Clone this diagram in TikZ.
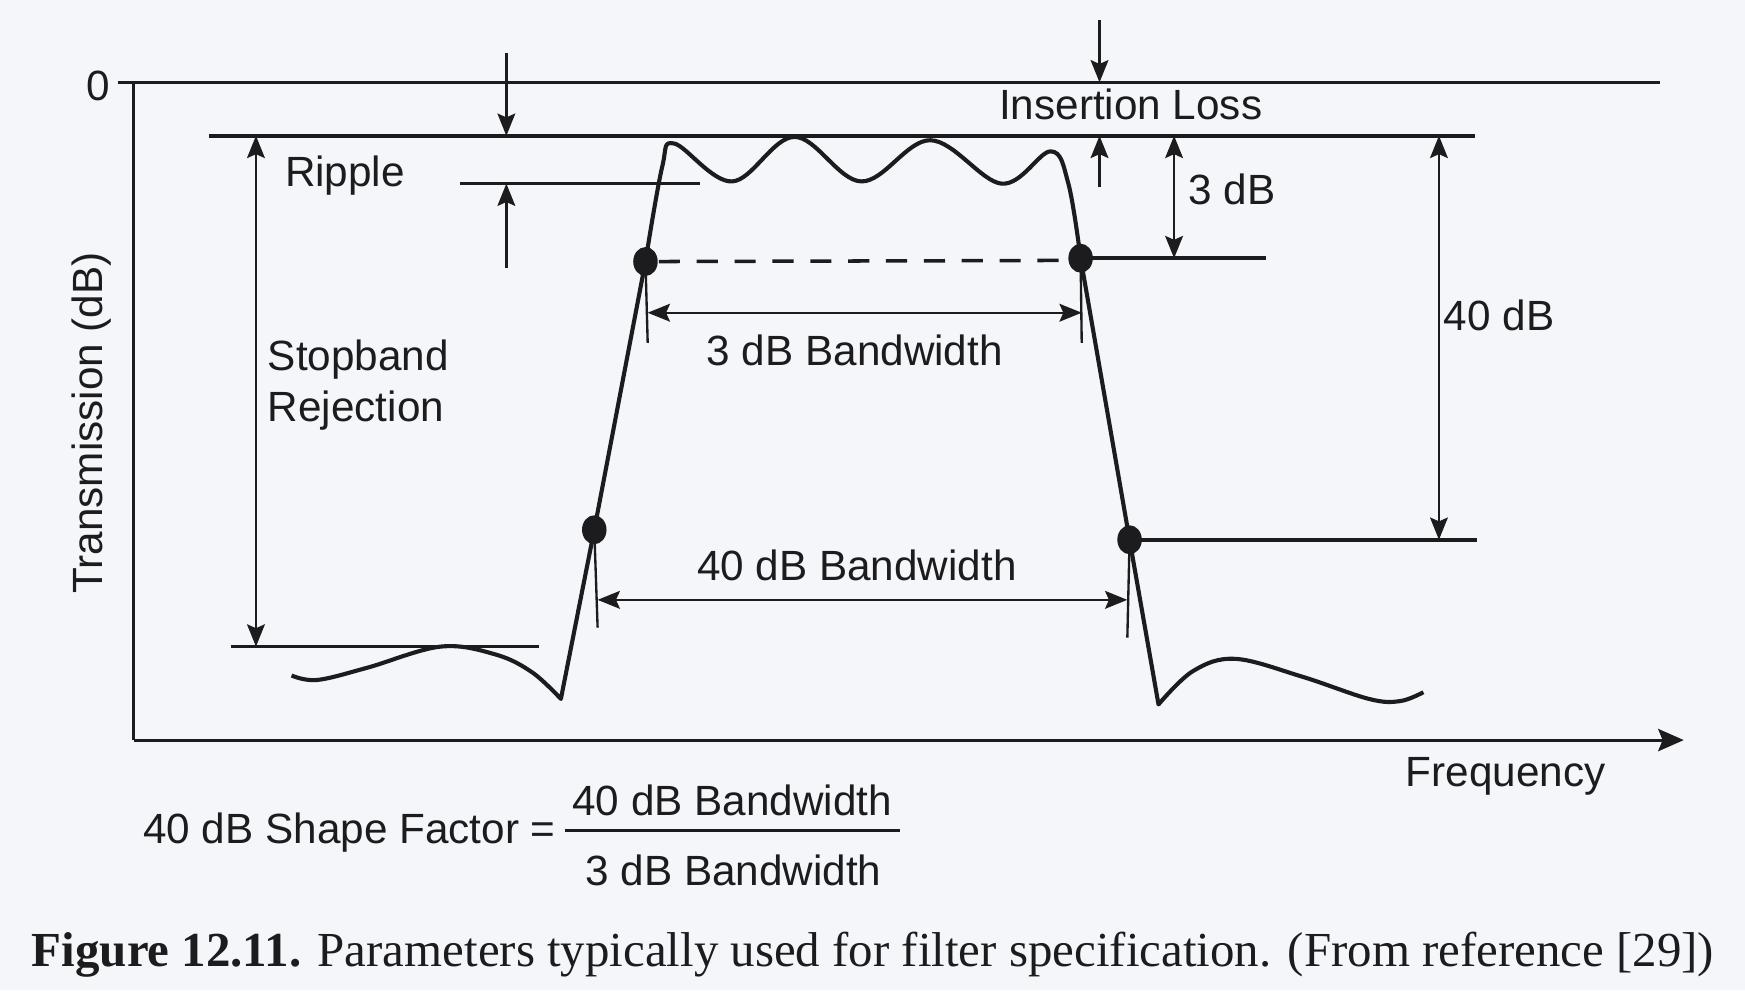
\documentclass[tikz,border=0pt]{standalone}
\usepackage{fontspec}
\setmainfont{Liberation Serif}
\setsansfont{Liberation Sans}
\usetikzlibrary{arrows.meta,calc}
\definecolor{ink}{RGB}{28,28,30}
\definecolor{paper}{RGB}{245,246,249}
\newcommand{\lblfont}{\sffamily\fontsize{10.8}{13.2}\selectfont}
\tikzset{
  level/.style={draw=ink,line width=0.9pt},
  resp/.style={draw=ink,line width=1.05pt,line join=round},
  dim/.style={draw=ink,line width=0.6pt,-{Stealth[length=2mm,width=1.6mm,inset=0.35mm]}},
  dimboth/.style={draw=ink,line width=0.6pt,{Stealth[length=2mm,width=1.6mm,inset=0.35mm]}-{Stealth[length=2mm,width=1.6mm,inset=0.35mm]}},
  tickline/.style={draw=ink,line width=0.6pt},
  axisline/.style={draw=ink,line width=0.8pt},
  lbl/.style={font=\lblfont,text=ink,inner sep=0pt},
  marker/.style={fill=ink},
}

\begin{document}
\begin{tikzpicture}[x=0.01cm,y=-0.01cm]
  \useasboundingbox (0,0) rectangle (1568,890);
  \fill[paper] (0,0) rectangle (1568,890);

  % axes and reference levels
  \coordinate (origin) at (120,665);
  \coordinate (yend) at (120,74);
  \coordinate (xend) at (1513,665);
  \draw[axisline] (origin) -- (yend);
  \draw[axisline,-{Stealth[length=2.3mm,width=2mm,inset=0.4mm]}] (origin) -- (xend);
  \draw[level] (106,74) -- (1492,74);
  \draw[level] (188,122) -- (1325,122);
  \draw[level] (413,165) -- (629,165);
  \draw[level] (208,581) -- (484,581);

  \coordinate (d3L) at (580,235);
  \coordinate (d3R) at (971,232);
  \coordinate (d40L) at (534,476);
  \coordinate (d40R) at (1015,485);

  \draw[level] (d3R) -- (1138,232);
  \draw[level] (d40R) -- (1327,485);
  \draw[draw=ink,line width=0.9pt,dash pattern=on 1.9mm off 1.5mm] (d3L) ++(12,0) -- (958,234);

  % response curve
  \draw[resp] plot[smooth,tension=0.6] coordinates {(262,607) (285,611) (330,600) (396,581) (445,588) (478,604) (504,628)}
    -- (d40L) -- (d3L)
    -- plot[smooth,tension=0.6] coordinates {(580,235) (595,150) (606,129) (658,163) (714,123) (774,163) (836,126) (900,165) (944,136) (960,165) (971,232)}
    -- (d40R) -- (1041,633)
    -- plot[smooth,tension=0.6] coordinates {(1041,633) (1072,603) (1110,592) (1170,608) (1230,628) (1258,630) (1279,622)};

  \foreach \p in {d3L,d3R,d40L,d40R}
    \fill[marker] (\p) ellipse [x radius=1.1mm,y radius=1.3mm];

  % dimensions
  \draw[dim] (988,18) -- (988,74);
  \draw[dim] (988,168) -- (988,122);
  \draw[dim] (455,48) -- (455,122);
  \draw[dim] (455,241) -- (455,165);
  \draw[dimboth] (1055,122) -- (1055,232);
  \draw[dimboth] (1293,122) -- (1293,485);
  \draw[dimboth] (230,122) -- (230,581);

  \draw[tickline] (d3L) -- (582,308);
  \draw[tickline] (d3R) -- (972,308);
  \draw[dimboth] (582,281) -- (972,281);
  \draw[tickline] (d40L) -- (537,564);
  \draw[tickline] (d40R) -- (1013,573);
  \draw[dimboth] (537,539) -- (1013,539);

  % labels
  \node[lbl] (zero) at (88,77) {0};
  \node[lbl,rotate=90] (ylab) at (82,380) {Transmission (dB)};
  \node[lbl] (xlab) at (1353,698) {Frequency};
  \node[lbl] (insloss) at (1016,94) {Insertion Loss};
  \node[lbl] (ripple) at (310,158) {Ripple};
  \node[lbl] (three) at (1107,170) {3 dB};
  \node[lbl] (forty) at (1347,283) {40 dB};
  \node[lbl] (bw3) at (768,315) {3 dB Bandwidth};
  \node[lbl] (bw40) at (770,508) {40 dB Bandwidth};
  \node[lbl,align=left,anchor=west] (stopband) at (240,346) {Stopband\\Rejection};

  \node[lbl,anchor=east] (sfname) at (500,748) {40 dB Shape Factor =};
  \coordinate (barL) at (508,746);
  \coordinate (barR) at (809,746);
  \draw[draw=ink,line width=0.7pt] (barL) -- (barR);
  \node[lbl] (num) at (658,719) {40 dB Bandwidth};
  \node[lbl] (den) at (659,782) {3 dB Bandwidth};

  \node[anchor=west,inner sep=0pt,text=ink,font=\fontsize{12.5}{15}\selectfont] (caption) at (28,858)
    {\textbf{Figure 12.11.} Parameters typically used for filter specification. (From reference [29])};
\end{tikzpicture}
\end{document}
